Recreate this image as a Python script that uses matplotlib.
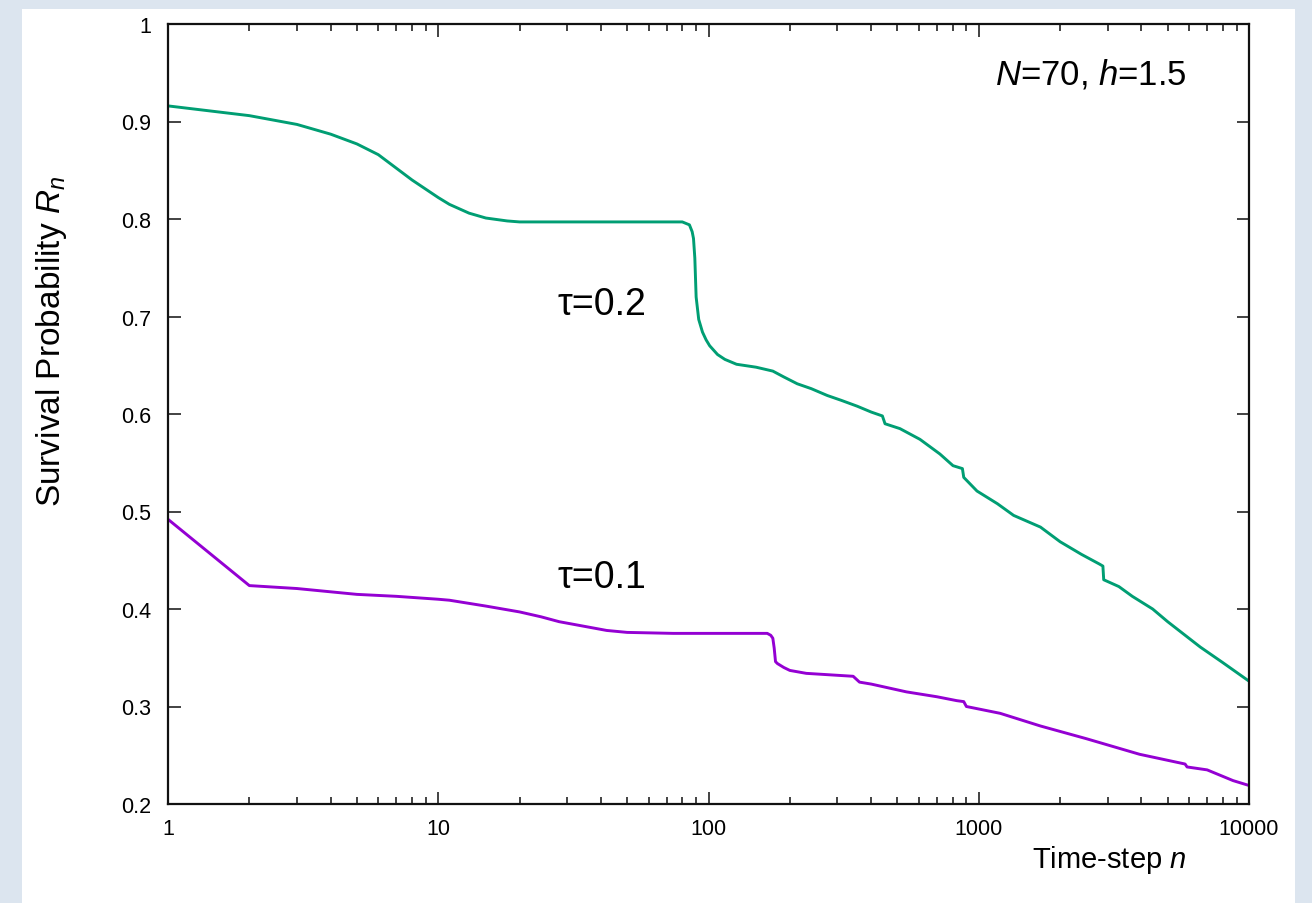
import matplotlib
matplotlib.use('Agg')
import matplotlib.pyplot as plt
from matplotlib.patches import Rectangle
from matplotlib.ticker import FixedLocator, NullFormatter

# Fonts (Helvetica-like)
plt.rcParams['font.family'] = ['Liberation Sans', 'DejaVu Sans']
plt.rcParams['mathtext.fontset'] = 'custom'
plt.rcParams['mathtext.rm'] = 'Liberation Sans'
plt.rcParams['mathtext.it'] = 'Liberation Sans:italic'

# Survival probability, tau = 0.2
n_tau02 = [1, 2, 3, 4, 5, 6, 8, 10, 11, 13, 15, 18, 20, 30, 50, 80, 85, 87, 88, 89,
           90, 92, 95, 98, 101, 108, 115, 127, 150, 173, 190, 213, 240, 275, 310, 355,
           400, 440, 450, 511, 606, 718, 803, 870, 880, 985, 1172, 1346, 1692, 2000,
           2400, 2800, 2880, 2900, 3300, 3700, 4400, 5000, 6600, 8000, 10000]
r_tau02 = [0.916, 0.906, 0.897, 0.887, 0.877, 0.866, 0.840, 0.822, 0.815, 0.806, 0.801,
           0.798, 0.797, 0.797, 0.797, 0.797, 0.794, 0.787, 0.780, 0.760, 0.720, 0.697,
           0.684, 0.676, 0.670, 0.661, 0.656, 0.651, 0.648, 0.644, 0.638, 0.631, 0.626,
           0.619, 0.614, 0.608, 0.602, 0.598, 0.590, 0.585, 0.574, 0.559, 0.547, 0.544,
           0.535, 0.521, 0.508, 0.496, 0.484, 0.469, 0.456, 0.446, 0.444, 0.430, 0.423,
           0.413, 0.400, 0.387, 0.361, 0.345, 0.326]

# Survival probability, tau = 0.1
n_tau01 = [1, 2, 3, 5, 7, 10, 11, 15, 20, 24, 28, 42, 50, 74, 100, 150, 165, 170, 173,
           175, 177, 180, 190, 200, 230, 300, 343, 362, 400, 540, 700, 829, 880, 900,
           1200, 1692, 2500, 3935, 5800, 5900, 7000, 8730, 10000]
r_tau01 = [0.492, 0.424, 0.421, 0.415, 0.413, 0.410, 0.409, 0.403, 0.397, 0.392, 0.387,
           0.378, 0.376, 0.375, 0.375, 0.375, 0.375, 0.373, 0.370, 0.360, 0.346, 0.344,
           0.340, 0.337, 0.334, 0.332, 0.331, 0.325, 0.323, 0.315, 0.310, 0.306, 0.305,
           0.300, 0.293, 0.280, 0.267, 0.251, 0.241, 0.238, 0.235, 0.224, 0.219]

y_ticks = [0.2, 0.3, 0.4, 0.5, 0.6, 0.7, 0.8, 0.9, 1.0]
y_labels = ['0.2', '0.3', '0.4', '0.5', '0.6', '0.7', '0.8', '0.9', '1']
x_ticks = [1, 10, 100, 1000, 10000]
x_labels = ['1', '10', '100', '1000', '10000']

fig = plt.figure(figsize=(13.12, 9.04), dpi=100)
fig.patch.set_facecolor('#dce5ef')
# white slide panel behind the chart
fig.patches.append(Rectangle((22 / 1312, 0), (1295 - 22) / 1312, 1 - 10 / 904,
                             transform=fig.transFigure, facecolor='white',
                             edgecolor='none', zorder=-1))

ax = fig.add_axes([168 / 1312, 1 - 805 / 904, (1249 - 168) / 1312, (805 - 25) / 904])
ax.set_zorder(2)
ax.set_facecolor('white')

ax.plot(n_tau02, r_tau02, color='#009e73', lw=2.1)
ax.plot(n_tau01, r_tau01, color='#9400d3', lw=2.1)

ax.set_xscale('log')
ax.set_xlim(1, 10000)
ax.set_ylim(0.2, 1.0)

ax.xaxis.set_major_locator(FixedLocator(x_ticks))
ax.set_xticklabels(x_labels)
minors = [m * 10 ** e for e in range(4) for m in range(2, 10)]
ax.xaxis.set_minor_locator(FixedLocator(minors))
ax.xaxis.set_minor_formatter(NullFormatter())
ax.set_yticks(y_ticks)
ax.set_yticklabels(y_labels)

ax.tick_params(which='both', direction='in', top=True, right=True,
               labelsize=15.5, width=1.2, colors='#222222', labelcolor='black')
ax.tick_params(axis='y', which='major', length=9, pad=12)
ax.tick_params(axis='x', which='major', length=9, pad=10)
ax.tick_params(axis='x', which='minor', length=5)
for s in ax.spines.values():
    s.set_linewidth(1.6)
    s.set_color('#111111')

ax.set_xlabel('Time-step $n$', fontsize=21)
ax.xaxis.set_label_coords(0.871, -0.05)
ax.set_ylabel('Survival Probability $R_n$', fontsize=24)
ax.yaxis.set_label_coords(-0.092, 0.594)

ax.text(0.765, 0.936, '$N$=70, $h$=1.5', transform=ax.transAxes,
        fontsize=25, va='center', ha='left')
ax.text(0.36, 0.641, 'τ=0.2', transform=ax.transAxes,
        fontsize=27, va='center', ha='left')
ax.text(0.36, 0.291, 'τ=0.1', transform=ax.transAxes,
        fontsize=27, va='center', ha='left')

fig.savefig('out.png', dpi=100, facecolor=fig.get_facecolor())
